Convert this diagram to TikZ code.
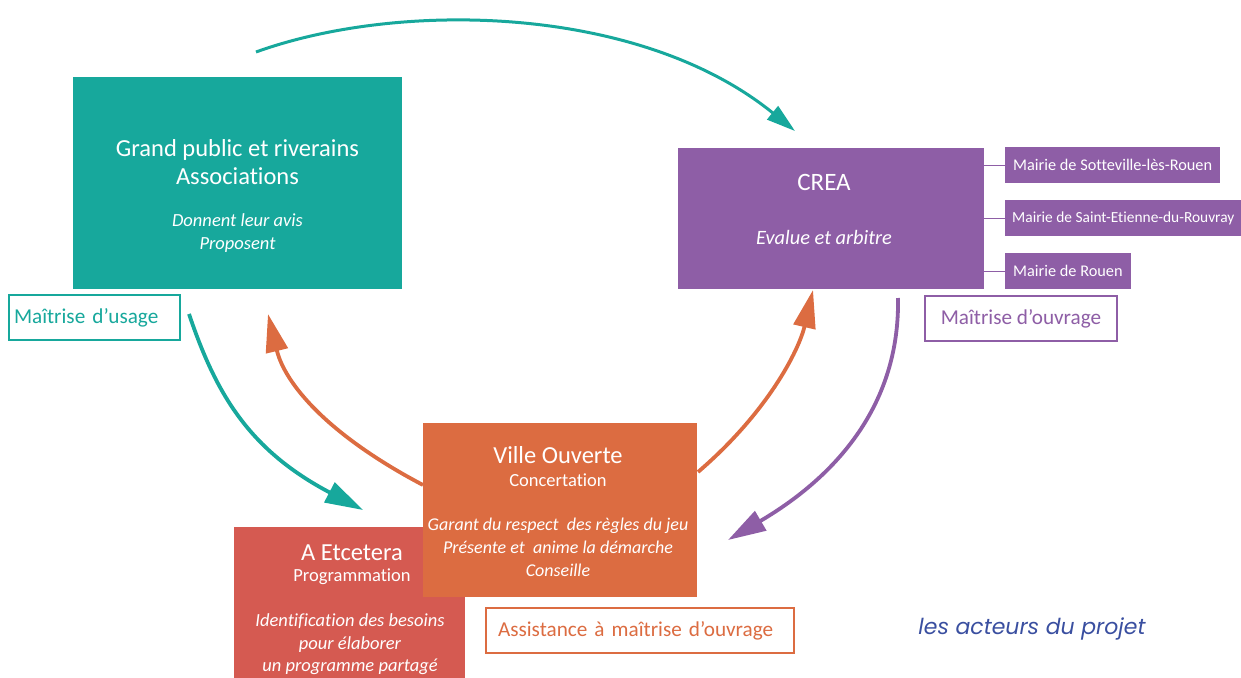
\documentclass[tikz,border=0pt]{standalone}
\usepackage{fontspec}
\setmainfont{Carlito}[Ligatures=NoCommon]
\newfontfamily\legendefont{Poppins}
\usetikzlibrary{arrows.meta}

\definecolor{coulVert}{HTML}{17A89C}
\definecolor{coulViolet}{HTML}{8E5EA6}
\definecolor{coulOrange}{HTML}{DC6C41}
\definecolor{coulRouge}{HTML}{D55A51}
\definecolor{coulBleu}{HTML}{3A4FA0}

\tikzset{
  bloc/.style={rectangle, inner sep=0pt, fill=#1},
  titre/.style={text=white, align=center, inner sep=0pt, font=\fontsize{24.5}{28}\selectfont},
  soustitre/.style={text=white, align=center, inner sep=0pt, font=\fontsize{18.5}{22}\selectfont},
  desc/.style={text=white, align=center, inner sep=0pt, font=\fontsize{18.5}{23}\selectfont\itshape},
  etiq/.style={rectangle, draw=#1, text=#1, fill=white, line width=1.3pt, inner xsep=5pt,
    minimum height=45pt, font=\fontsize{21.2}{22}\selectfont},
  mairie/.style={rectangle, fill=coulViolet, text=white, inner xsep=8pt, minimum height=36pt,
    anchor=west, font=\fontsize{16.3}{16}\selectfont},
  lien/.style={draw=coulViolet, line width=0.8pt},
  fleche/.style={draw=#1, line width=3.8pt, -{Triangle[length=38pt,width=22pt]}}
}

\begin{document}
\begin{tikzpicture}[x=1pt,y=-1pt]
\clip (0,0) rectangle (1241,677);											% cadre de l'image

% Grand public
\node[bloc=coulVert, minimum width=329pt, minimum height=212pt] (public) at (237.5,183) {};
\node[titre] (publicT) at (237.5,162) {Grand public et riverains\\Associations};
\node[desc] (publicD) at (237.5,233.5) {Donnent leur avis\\Proposent};
\node[etiq=coulVert, text width=161pt, align=left] (usage) at (94.5,317.5) {Maîtrise d’usage};

% CREA et mairies
\node[bloc=coulViolet, minimum width=306pt, minimum height=141pt] (crea) at (831,218) {};
\node[titre, font=\fontsize{25}{28}\selectfont] (creaT) at (824,182) {CREA};
\node[desc, font=\fontsize{20.4}{23}\selectfont\itshape] (creaD) at (824,237) {Evalue et arbitre};
\node[mairie] (mairieA) at (1005,165) {Mairie de Sotteville-lès-Rouen};
\node[mairie, font=\fontsize{15.4}{16}\selectfont, inner xsep=7pt] (mairieB) at (1005,218) {Mairie de Saint-Etienne-du-Rouvray};
\node[mairie] (mairieC) at (1005,271) {Mairie de Rouen};
\foreach \m in {mairieA,mairieB,mairieC}
  \draw[lien] (crea.east |- \m.west) -- (\m.west);						% traits vers les mairies
\node[etiq=coulViolet, minimum width=192pt] (ouvrage) at (1021,318.5) {Maîtrise d’ouvrage};

% points des fleches
\coordinate (hautA) at (256,52);
\coordinate (hautB) at (795,131);
\coordinate (usageA) at (189,314);
\coordinate (usageB) at (363,510);
\coordinate (villeG) at (423,485);
\coordinate (publicB) at (268,314);
\coordinate (villeD) at (698,472);
\coordinate (creaB) at (813,290);
\coordinate (creaA) at (898,298);
\coordinate (villeB) at (728,540);

\draw[fleche=coulVert, line width=3pt, -{Triangle[length=29pt,width=17pt]}]
  (hautA) .. controls (400,0) and (640,5) .. (hautB);					% fleche du haut
\draw[fleche=coulVert] (usageA) .. controls (216,394) and (249,450) .. (usageB);	% maitrise d'usage vers A Etcetera
\draw[fleche=coulOrange] (villeG) .. controls (328,435) and (285,384) .. (publicB);	% Ville Ouverte vers public
\draw[fleche=coulOrange] (villeD) .. controls (768,412) and (799,350) .. (creaB);	% Ville Ouverte vers CREA
\draw[fleche=coulViolet] (creaA) .. controls (900,410) and (830,480) .. (villeB);	% CREA vers Ville Ouverte

% A Etcetera
\node[bloc=coulRouge, minimum width=231pt, minimum height=160pt] (etc) at (349.5,607) {};
\node[titre] (etcT) at (352,553) {A Etcetera};
\node[soustitre] (etcS) at (352,577) {Programmation};
\node[desc, font=\fontsize{18.5}{22.5}\selectfont\itshape] (etcI) at (350,644.5) {Identification des besoins\\pour élaborer\\un programme partagé};

% Ville Ouverte
\node[bloc=coulOrange, minimum width=274pt, minimum height=174pt] (ville) at (560,510) {};
\node[titre] (villeT) at (558,455) {Ville Ouverte};
\node[soustitre] (villeS) at (558,480) {Concertation};
\node[desc, font=\fontsize{18}{23}\selectfont\itshape] (villeI) at (558,547) {Garant du respect~ des règles du jeu\\Présente et~ anime la démarche\\Conseille};
\node[etiq=coulOrange, minimum width=308pt, text width=284pt, inner xsep=12pt, align=left] (amo) at (640,630.5) {Assistance à maîtrise d’ouvrage};

% legende
\node[text=coulBleu, font=\legendefont\fontsize{22}{24}\selectfont\itshape] (legende) at (1032,629) {les acteurs du projet};

\end{tikzpicture}
\end{document}
